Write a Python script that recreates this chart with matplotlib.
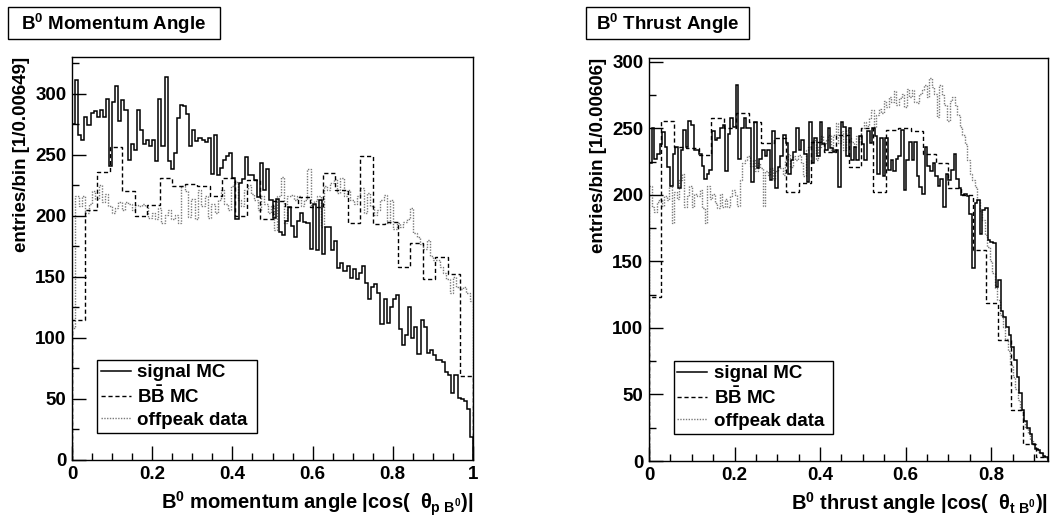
import numpy as np
import matplotlib
matplotlib.use("Agg")
import matplotlib.pyplot as plt
from matplotlib.lines import Line2D
from matplotlib.patches import Rectangle

plt.rcParams["font.family"] = ["Liberation Sans", "DejaVu Sans"]
plt.rcParams["font.weight"] = "bold"
plt.rcParams["mathtext.fontset"] = "custom"
plt.rcParams["mathtext.rm"] = "Liberation Sans:bold"
plt.rcParams["mathtext.it"] = "Liberation Sans:bold"
plt.rcParams["mathtext.bf"] = "Liberation Sans:bold"
plt.rcParams["mathtext.sf"] = "Liberation Sans:bold"

# --- B0 momentum angle |cos(theta_p)|, range 0..1 ---
sig_p = [275, 311, 266, 262, 281, 274, 284, 286, 281, 287, 281, 296, 241, 293, 306, 278,
         295, 287, 246, 259, 254, 287, 270, 259, 262, 257, 262, 245, 296, 257, 314, 245,
         238, 251, 280, 291, 290, 283, 257, 270, 261, 264, 262, 260, 264, 234, 266, 233,
         239, 246, 249, 251, 231, 197, 227, 230, 248, 233, 233, 229, 215, 243, 221, 238,
         213, 198, 214, 187, 184, 196, 207, 192, 183, 196, 202, 195, 194, 173, 210, 172,
         213, 169, 191, 191, 172, 179, 157, 161, 155, 159, 149, 156, 148, 153, 159, 145,
         132, 142, 144, 137, 111, 132, 112, 125, 132, 135, 107, 94, 102, 125, 100, 109,
         87, 115, 109, 88, 90, 86, 82, 82, 80, 72, 70, 55, 70, 51, 50, 48, 42, 19]
off_p = [108, 216, 208, 216, 202, 210, 220, 214, 225, 211, 218, 208, 202, 206, 211, 205,
         211, 210, 205, 209, 208, 210, 208, 198, 202, 197, 206, 194, 201, 205, 197, 201,
         194, 224, 220, 199, 214, 197, 221, 208, 216, 198, 210, 202, 213, 221, 210, 205,
         224, 228, 213, 208, 221, 225, 218, 213, 205, 216, 210, 202, 208, 188,
         216, 232, 194, 216, 217, 213, 216, 208, 213, 238, 208, 212, 216, 191, 224, 221,
         227, 230, 219, 231, 216, 221, 213, 210, 216, 223, 202, 219, 208, 201, 205, 213,
         217, 194, 213, 189, 194, 191, 195, 197, 206, 186, 183, 177, 173, 180, 167, 164,
         164, 158, 153, 148, 137, 150, 142, 140, 142, 137, 130]
bb_p = [115, 205, 236, 256, 220, 200, 209, 231, 224, 226, 224, 216, 231, 200, 229, 197,
        212, 207, 215, 207, 235, 221, 194, 249, 193, 195, 158, 178, 148, 166, 152, 69]

# --- B0 thrust angle |cos(theta_t)|, range 0..0.933 ---
sig_t = [224, 250, 227, 231, 238, 247, 236, 221, 207, 231, 236, 205, 234, 249, 236, 256,
         253, 234, 234, 231, 222, 212, 216, 219, 248, 241, 243, 250, 253, 218, 246, 258,
         251, 283, 227, 250, 258, 250, 250, 210, 255, 220, 227, 234, 229, 234, 211, 248,
         205, 221, 229, 245, 239, 216, 226, 232, 250, 234, 241, 231, 210, 255, 224, 243,
         229, 255, 238, 234, 250, 235, 232, 234, 206, 255, 251, 229, 250, 226, 236,
         226, 244, 238, 226, 248, 239, 250, 244, 216, 243, 214, 243, 219, 226, 218, 227,
         229, 249, 204, 226, 240, 226, 240, 214, 206, 201, 236, 222, 218, 224, 214, 207,
         212, 191, 216, 211, 219, 231, 212, 205, 200, 201, 199, 186, 145, 194, 196, 171,
         189, 190, 166, 165, 164, 131, 136, 113, 108, 101, 95, 86, 76, 63, 51, 38,
         30, 25, 20, 13, 9, 8, 6, 4, 3]
off_t = [207, 191, 187, 195, 197, 192, 199, 196, 207, 179, 202, 197, 211, 216, 191, 199,
         207, 191, 201, 199, 204, 190, 179, 207, 197, 201, 194, 190, 201, 191, 197, 191,
         199, 204, 200, 192, 211, 224, 226, 229, 222, 226, 218, 224, 220, 192, 218, 215,
         220, 211, 218, 222, 220, 215, 226, 231, 221, 229, 226, 230, 224, 214, 234, 236,
         239, 241, 226, 236, 244, 238, 241, 245, 232, 245, 254, 239, 248, 234, 249, 243, 240,
         236, 244, 240, 250, 255, 252, 258, 264, 251, 260, 265, 262, 271, 266, 274, 270,
         278, 268, 273, 276, 266, 280, 274, 279, 270, 269, 276, 279, 283, 274, 288, 281,
         276, 259, 283, 275, 268, 256, 271, 274, 268, 260, 251, 245, 238, 226, 216, 211,
         206, 196, 188, 181, 170, 161, 150, 141, 130, 121, 110, 101, 92, 83, 72, 63,
         54, 46, 38, 31, 25, 21, 16, 13, 9, 7, 6, 4, 2]
bb_t = [123, 256, 236, 235, 230, 258, 250, 262, 255, 239, 243, 202, 209, 240, 232, 245,
        221, 250, 202, 249, 250, 248, 231, 224, 205, 200, 159, 119, 91, 38, 13, 3]

labels = ["signal MC", r"B$\bar{\mathrm{B}}$ MC", "offpeak data"]
FS = 13.5
OFF_COLOR = "#7a7a7a"


def draw_panel(ax, sig, bb, off, xmax, ymax, xlabel, ylabel, xticks):
    for vals, ls, col, lw in [(off, (0, (1, 1)), OFF_COLOR, 1.0),
                              (bb, (0, (3, 2)), "black", 1.0),
                              (sig, "-", "black", 1.1)]:
        edges = np.linspace(0, xmax, len(vals) + 1)
        ax.stairs(vals, edges, baseline=0, fill=False, color=col, linestyle=ls, linewidth=lw)
    ax.set_xlim(0, xmax)
    ax.set_ylim(0, ymax)
    ax.set_xticks(xticks)
    ax.set_xticklabels([("%g" % t) for t in xticks])
    ax.set_xticks(np.arange(0, xmax + 1e-9, 0.05), minor=True)
    ax.set_yticks(np.arange(0, ymax + 1, 50))
    ax.set_yticks(np.arange(0, ymax + 1, 25), minor=True)
    ax.tick_params(which="both", direction="in", top=False, right=False, labelsize=FS, width=1.0)
    ax.tick_params(which="major", length=10, pad=4)
    ax.tick_params(which="minor", length=5)
    for lab in ax.get_xticklabels() + ax.get_yticklabels():
        lab.set_fontweight("bold")
    for s in ax.spines.values():
        s.set_linewidth(1.0)
    ax.set_xlabel(xlabel, loc="right", fontsize=14.5, fontweight="bold", labelpad=5)
    ax.set_ylabel(ylabel, loc="top", fontsize=FS, fontweight="bold", labelpad=4)
    handles = [Line2D([], [], color="black", lw=1.1),
               Line2D([], [], color="black", lw=1.0, linestyle=(0, (3, 2))),
               Line2D([], [], color=OFF_COLOR, lw=1.0, linestyle=(0, (1, 1)))]
    leg = ax.legend(handles, labels, loc="lower left", bbox_to_anchor=(0.062, 0.068, 0.4, 0.18),
                    mode="expand", borderaxespad=0, fancybox=False, framealpha=1,
                    edgecolor="black", prop={"size": FS, "weight": "bold"},
                    handlelength=1.6, handletextpad=0.35, labelspacing=0.25, borderpad=0.2)
    leg.get_frame().set_linewidth(1.0)


fig = plt.figure(figsize=(10.52, 5.16), dpi=100)
W, H = 1052.0, 516.0
ax1 = fig.add_axes([72 / W, 1 - 460 / H, 401 / W, 403 / H])
ax2 = fig.add_axes([649 / W, 1 - 461 / H, 399 / W, 403 / H])

draw_panel(ax1, sig_p, bb_p, off_p, 1.0, 330,
           r"B$^{0}$ momentum angle |cos(  $\theta_{\mathrm{p\ B^{0}}}$)|",
           "entries/bin [1/0.00649]", [0, 0.2, 0.4, 0.6, 0.8, 1.0])
draw_panel(ax2, sig_t, bb_t, off_t, 0.933, 303,
           r"B$^{0}$ thrust angle |cos(  $\theta_{\mathrm{t\ B^{0}}}$)|",
           "entries/bin [1/0.00606]", [0, 0.2, 0.4, 0.6, 0.8])

# title boxes
for (x0, x1, txt) in [(8, 220, r"B$^{0}$ Momentum Angle"), (586, 749, r"B$^{0}$ Thrust Angle")]:
    fig.add_artist(Rectangle((x0 / W, 1 - 39 / H), (x1 - x0) / W, 32 / H,
                             transform=fig.transFigure, fill=False, lw=1.0, edgecolor="black"))
    fig.text((x0 + x1) / 2 / W, 1 - 24 / H, txt, ha="center", va="center",
             fontsize=FS, fontweight="bold")

fig.savefig("out.png", dpi=100)
